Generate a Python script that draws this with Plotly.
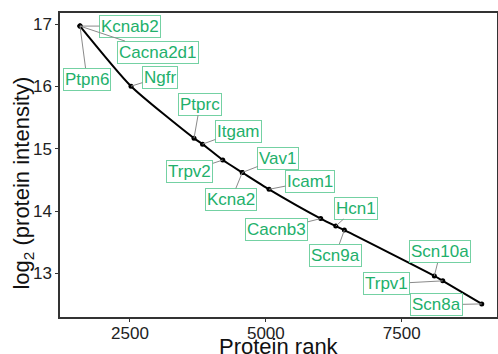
import plotly.graph_objects as go

# Highlighted proteins (rank, log2 intensity)
proteins = ["Kcnab2", "Cacna2d1", "Ptpn6", "Ngfr", "Ptprc", "Itgam", "Trpv2",
            "Vav1", "Kcna2", "Icam1", "Cacnb3", "Hcn1", "Scn9a", "Scn10a",
            "Trpv1", "Scn8a"]
ranks = [1580, 1580, 1580, 2519, 3678, 3835, 4207,
         4567, 4567, 5059, 6010, 6287, 6445, 8101,
         8256, 8974]
intensity = [16.97, 16.97, 16.97, 16.005, 15.17, 15.075, 14.82,
             14.62, 14.62, 14.35, 13.88, 13.76, 13.695, 12.96,
             12.88, 12.51]

# Ranked intensity curve
curve_rank = [1580, 2519, 3678, 3835, 4207, 4567, 5059,
              6010, 6287, 6445, 8101, 8256, 8974]
curve_int = [16.97, 16.005, 15.17, 15.075, 14.82, 14.62, 14.35,
             13.88, 13.76, 13.695, 12.96, 12.88, 12.51]

x_ticks = [2500, 5000, 7500]
y_ticks = [13, 14, 15, 16, 17]

# label offsets in pixels (box centre relative to point)
offsets = {
    "Kcnab2": (50, 0), "Cacna2d1": (78, 26), "Ptpn6": (7, 53), "Ngfr": (29, -9),
    "Ptprc": (6, -34), "Itgam": (36, -13), "Trpv2": (-33, 11), "Vav1": (36, -14),
    "Kcna2": (-11, 27), "Icam1": (41, -8), "Cacnb3": (-44, 11), "Hcn1": (20, -18),
    "Scn9a": (-9, 25), "Scn10a": (6, -24), "Trpv1": (-56, 3), "Scn8a": (-45, 1),
}

FONT = "Liberation Sans, Arial"

fig = go.Figure()
fig.add_trace(go.Scatter(x=curve_rank, y=curve_int, mode="lines",
                         line=dict(color="black", width=2, shape="spline", smoothing=0.6),
                         hoverinfo="skip"))
fig.add_trace(go.Scatter(x=ranks, y=intensity, mode="markers",
                         marker=dict(color="black", size=5), text=proteins))

for name, xr, yi in zip(proteins, ranks, intensity):
    ax, ay = offsets[name]
    fig.add_annotation(x=xr, y=yi, text=name, showarrow=True, arrowhead=0,
                       arrowwidth=1, arrowcolor="#8a8a8a", ax=ax, ay=ay,
                       font=dict(family=FONT, size=17, color="#22b06b"),
                       bgcolor="white", bordercolor="#74d1a3", borderwidth=1,
                       borderpad=1, standoff=0)

# axis titles
fig.add_annotation(text="Protein rank", xref="paper", yref="paper", x=0.5, y=0,
                   xanchor="center", yanchor="middle", yshift=-29, showarrow=False,
                   font=dict(family=FONT, size=22, color="#111111"))
fig.add_annotation(text="log<sub>2</sub> (protein intensity)", xref="paper", yref="paper",
                   x=0, y=0.439, xanchor="center", yanchor="middle", xshift=-37,
                   textangle=-90, showarrow=False,
                   font=dict(family=FONT, size=22, color="#111111"))

axis_common = dict(showgrid=False, zeroline=False, showline=True, linecolor="#333333",
                   linewidth=1.5, mirror=True, ticks="outside", ticklen=3,
                   tickcolor="#333333", tickfont=dict(family=FONT, size=17, color="#222222"),
                   automargin=False)
fig.update_xaxes(range=[1212, 9254], tickvals=x_ticks, ticklabelstandoff=-3, **axis_common)
fig.update_yaxes(range=[12.30, 17.18], tickvals=y_ticks, **axis_common)
fig.update_layout(width=498, height=354, margin=dict(l=60, r=1, t=13, b=37),
                  plot_bgcolor="white", paper_bgcolor="white", showlegend=False)
fig.write_html("out.html")
